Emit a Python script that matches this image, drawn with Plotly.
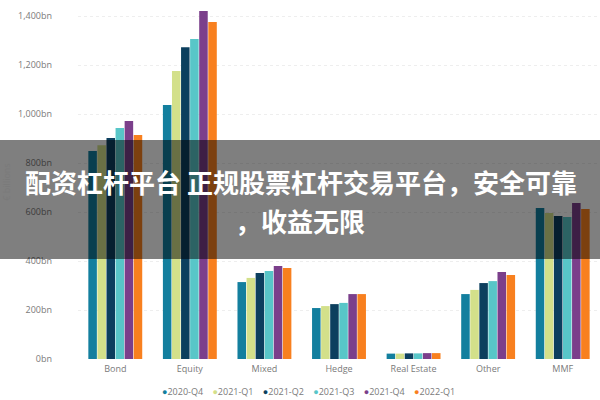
import plotly.graph_objects as go

# categorias y trimestres
categorias = ['Bond', 'Equity', 'Mixed', 'Hedge', 'Real Estate', 'Other', 'MMF']
trimestres = ['2020-Q4', '2021-Q1', '2021-Q2', '2021-Q3', '2021-Q4', '2022-Q1']
colores = ['#137f9e', '#d3e08a', '#0c3f5e', '#58c6c8', '#7b3f8b', '#f8801f']

# valores en bn
q4_2020 = [849, 1037, 314, 208, 22, 265, 616]
q1_2021 = [873, 1176, 331, 216, 22, 282, 596]
q2_2021 = [902, 1273, 351, 224, 23, 310, 584]
q3_2021 = [943, 1306, 359, 229, 23, 318, 580]
q4_2021 = [971, 1420, 380, 265, 24, 355, 637]
q1_2022 = [914, 1376, 371, 265, 24, 343, 612]
series = [q4_2020, q1_2021, q2_2021, q3_2021, q4_2021, q1_2022]

ticks = [0, 200, 400, 600, 800, 1000, 1200, 1400]
tick_txt = ['0bn', '200bn', '400bn', '600bn', '800bn', '1,000bn', '1,200bn', '1,400bn']

linea1 = '配资杠杆平台 正规股票杠杆交易平台，安全可靠'
linea2 = '，收益无限'

fig = go.Figure()
for nombre, vals, col in zip(trimestres, series, colores):
    fig.add_trace(go.Bar(x=categorias, y=vals, name=nombre, marker_color=col,
                         marker_line_width=0, showlegend=False))

fig.update_layout(
    width=600, height=400,
    margin=dict(l=78, r=0, t=5, b=41),
    paper_bgcolor='white', plot_bgcolor='white',
    barmode='group', bargap=0.27, bargroupgap=0.06,
    font=dict(family='Open Sans', color='#7a7a7a', size=9),
    showlegend=False,
    xaxis=dict(showline=False, showgrid=False, ticks='', tickfont=dict(size=9),
               ticklabelstandoff=3, automargin=False),
    yaxis=dict(range=[0, 1445], tickvals=ticks, ticktext=tick_txt,
               showgrid=True, gridcolor='#eeeeee', griddash='dot', zeroline=False,
               ticks='', ticklabelstandoff=25, automargin=False,
               title=dict(text='€ billions', font=dict(size=9), standoff=6)),
)

# leyenda hecha con texto (marcadores redondos y juntos)
leyenda = '    '.join('<span style="color:%s">●</span>%s' % (c, n)
                      for n, c in zip(trimestres, colores))
fig.add_annotation(xref='paper', yref='paper', x=(308 - 78) / 522, y=(359 - 391) / 354,
                   yanchor='middle', text=leyenda, showarrow=False,
                   font=dict(size=9, color='#7a7a7a'))

# banda gris con el texto
fig.add_shape(type='rect', xref='paper', yref='paper', x0=-0.2, x1=1.01,
              y0=(359 - 259) / 354, y1=(359 - 140) / 354,
              fillcolor='rgba(0,0,0,0.5)', line_width=0, layer='above')
fig.add_annotation(xref='paper', yref='paper', x=(301 - 78) / 522, y=(359 - 181) / 354,
                   yanchor='middle', text=linea1, showarrow=False,
                   font=dict(family='Noto Sans CJK SC', size=26, color='white', weight='bold'))
fig.add_annotation(xref='paper', yref='paper', x=(300 - 78) / 522, y=(359 - 220) / 354,
                   yanchor='middle', text=linea2, showarrow=False,
                   font=dict(family='Noto Sans CJK SC', size=26, color='white', weight='bold'))

# sin margen del body para que la figura quede en 0,0
fig.write_html("out.html", config={'displayModeBar': False},
               post_script="document.body.style.margin='0';")
